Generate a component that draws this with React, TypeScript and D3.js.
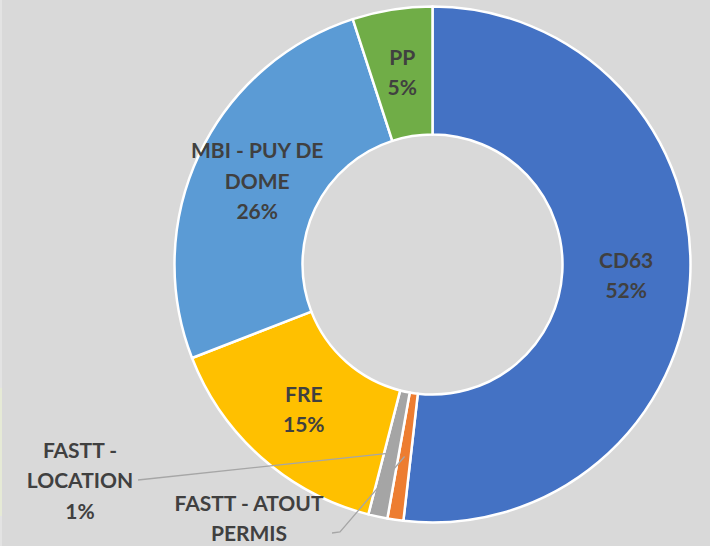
import React from "react";
import * as d3 from "d3";

const categories = ["CD63", "FASTT - ATOUT PERMIS", "FASTT - LOCATION", "FRE", "MBI - PUY DE DOME", "PP"];
const values = [51.8, 1.0, 1.2, 15.1, 25.9, 5.0];
const colors = ["#4472c4", "#ed7d31", "#a5a5a5", "#ffc000", "#5b9bd5", "#70ad47"];
// label line breaks as shown in the chart
const labelLines = [["CD63"], ["FASTT - ATOUT", "PERMIS"], ["FASTT -", "LOCATION"], ["FRE"], ["MBI - PUY DE", "DOME"], ["PP"]];
// whether the percentage line is visible (the ATOUT PERMIS one falls below the frame)
const showPct = [true, false, true, true, true, true];

const W = 710;
const H = 546;
const cx = 432.5;
const cy = 264.5;
const outerR = 258;
const innerR = 130;
const lineH = 30.5;
const font = "Lato, 'Open Sans', sans-serif";
const textColor = "#404040";

// outside label placements (centre of first text line) and leader anchor within slice
const outside: Record<number, { x: number; y: number; lineStart: [number, number][]; anchorFrac: number }> = {
  1: { x: 249, y: 503.5, lineStart: [[332, 533], [340, 532]], anchorFrac: 0.5 },
  2: { x: 80, y: 450.5, lineStart: [[138, 480]], anchorFrac: 0.75 },
};

export default function App() {
  const total = d3.sum(values);
  const pie = d3.pie<number>().value((d) => d).sort(null)(values);
  const arc = d3.arc<d3.PieArcDatum<number>>().innerRadius(innerR).outerRadius(outerR);
  const midR = (innerR + outerR) / 2;
  const pointAt = (angle: number, r: number): [number, number] => [Math.sin(angle) * r, -Math.cos(angle) * r];

  return (
    <svg width={W} height={H} style={{ position: "absolute", left: 0, top: 0, display: "block" }}>
      <rect x={0} y={0} width={W} height={H} fill="#d9d9d9" />
      <rect x={0} y={0} width={2} height={H} fill="#e3e3e3" />
      <rect x={0} y={388} width={2} height={128} fill="#e6ead6" />
      <g transform={`translate(${cx},${cy})`}>
        {pie.map((p, i) => (
          <path key={categories[i]} d={arc(p) || ""} fill={colors[i]} stroke="#ffffff" strokeWidth={2.5} strokeLinejoin="round" />
        ))}
      </g>
      {pie.map((p, i) => {
        const pct = Math.round((values[i] / total) * 100) + "%";
        const lines = showPct[i] ? [...labelLines[i], pct] : [...labelLines[i]];
        const o = outside[i];
        if (!o) {
          const [x, y] = pointAt((p.startAngle + p.endAngle) / 2, midR);
          const top = cy + y - ((lines.length - 1) * lineH) / 2;
          return (
            <text key={"l" + i} fontFamily={font} fontWeight={700} fontSize={21} fill={textColor} textAnchor="middle">
              {lines.map((t, k) => (
                <tspan key={k} x={cx + x} y={top + k * lineH} dy="0.35em">
                  {t}
                </tspan>
              ))}
            </text>
          );
        }
        const ang = p.startAngle + (p.endAngle - p.startAngle) * o.anchorFrac;
        const [ax, ay] = pointAt(ang, midR);
        const pts: [number, number][] = [...o.lineStart, [cx + ax, cy + ay]];
        return (
          <g key={"l" + i}>
            <path d={d3.line()(pts) || ""} fill="none" stroke="#a6a6a6" strokeWidth={1.3} />
            <text fontFamily={font} fontWeight={700} fontSize={21} fill={textColor} textAnchor="middle">
              {lines.map((t, k) => (
                <tspan key={k} x={o.x} y={o.y + k * lineH} dy="0.35em">
                  {t}
                </tspan>
              ))}
            </text>
          </g>
        );
      })}
    </svg>
  );
}
